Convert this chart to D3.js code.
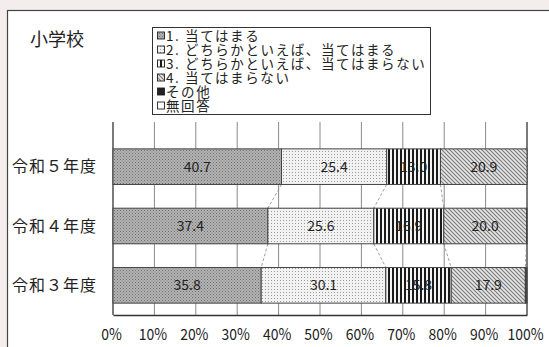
<!DOCTYPE html>
<html>
<head>
<meta charset="utf-8">
<script src="https://cdn.jsdelivr.net/npm/d3@7"></script>
<style>
  html, body { margin: 0; padding: 0; background: #f3eded; }
  svg { display: block; }
  text { font-family: "Noto Sans CJK JP", "Noto Sans", sans-serif; fill: #222; }
</style>
</head>
<body>
<svg id="chart" width="549" height="347"></svg>
<script>
// Survey answers by school year (percent of respondents)
const categories = ["令和５年度", "令和４年度", "令和３年度"];
const seriesNames = [
  "1. 当てはまる",
  "2. どちらかといえば、当てはまる",
  "3. どちらかといえば、当てはまらない",
  "4. 当てはまらない",
  "その他",
  "無回答"
];
const valuesR5 = [40.7, 25.4, 13.0, 20.9, 0.0, 0.0];
const valuesR4 = [37.4, 25.6, 16.9, 20.0, 0.1, 0.0];
const valuesR3 = [35.8, 30.1, 15.8, 17.9, 0.2, 0.2];
const tickValues = [0, 10, 20, 30, 40, 50, 60, 70, 80, 90, 100];
const tickLabels = ["0%", "10%", "20%", "30%", "40%", "50%", "60%", "70%", "80%", "90%", "100%"];
const chartTitle = "小学校";

const svg = d3.select("#chart");
const W = 549, H = 347;

// panel
svg.append("rect").attr("x", 7.5).attr("y", 10.5).attr("width", W).attr("height", H)
  .attr("fill", "#fff").attr("stroke", "#444").attr("stroke-width", 1.2);

// fill patterns
const defs = svg.append("defs");
function pat(id, size, draw) {
  const p = defs.append("pattern").attr("id", id).attr("patternUnits", "userSpaceOnUse")
    .attr("width", size).attr("height", size);
  draw(p);
  return `url(#${id})`;
}
const fills = [
  pat("p1", 3, p => {
    p.append("rect").attr("width", 3).attr("height", 3).attr("fill", "#b4b4b4");
    p.append("rect").attr("x", 0).attr("y", 0).attr("width", 1).attr("height", 1).attr("fill", "#6e6e6e");
    p.append("rect").attr("x", 1.5).attr("y", 1.5).attr("width", 1).attr("height", 1).attr("fill", "#7a7a7a");
  }),
  pat("p2", 3, p => {
    p.append("rect").attr("width", 3).attr("height", 3).attr("fill", "#f2f2f2");
    p.append("rect").attr("x", 1).attr("y", 1).attr("width", 1).attr("height", 1).attr("fill", "#9a9a9a");
  }),
  pat("p3", 4, p => {
    p.append("rect").attr("width", 4).attr("height", 4).attr("fill", "#f4f4f4");
    p.append("rect").attr("x", 0).attr("width", 2).attr("height", 4).attr("fill", "#1a1a1a");
  }),
  pat("p4", 4, p => {
    p.append("rect").attr("width", 4).attr("height", 4).attr("fill", "#e6e6e6");
    p.append("path").attr("d", "M-1,-1 L5,5 M-1,3 L1,5 M3,-1 L5,1")
      .attr("stroke", "#7a7a7a").attr("stroke-width", 1.1);
  }),
  "#222",
  "#fff"
];

// title
svg.append("text").attr("x", 30).attr("y", 46).attr("font-size", 18).text(chartTitle);

// legend
const lg = svg.append("g");
lg.append("rect").attr("x", 152.5).attr("y", 27.5).attr("width", 278).attr("height", 87)
  .attr("fill", "#fff").attr("stroke", "#333");
seriesNames.forEach((name, i) => {
  const yy = 36 + i * 14;
  lg.append("rect").attr("x", 157.5).attr("y", yy - 4).attr("width", 7).attr("height", 7)
    .attr("fill", fills[i]).attr("stroke", "#222").attr("stroke-width", 0.9);
  lg.append("text").attr("x", 166).attr("y", yy).attr("dy", "0.36em")
    .attr("font-size", 13.5).attr("letter-spacing", 1.6).text(name);
});

// scales
const x = d3.scaleLinear().domain([0, 100]).range([113, 527]);
const y = d3.scaleBand().domain(categories).range([137, 315]).paddingInner(0.4).paddingOuter(0.2);

// gridlines
const plot = svg.append("g");
plot.selectAll("line.grid").data(tickValues).join("line")
  .attr("x1", d => x(d)).attr("x2", d => x(d))
  .attr("y1", 122).attr("y2", 315)
  .attr("stroke", d => (d === 0 || d === 100) ? "#333" : "#8a8a8a")
  .attr("stroke-width", d => (d === 0 || d === 100) ? 1.3 : 1);

// bottom axis
const axis = svg.append("g").attr("transform", "translate(0,315)")
  .call(d3.axisBottom(x).tickValues(tickValues).tickSize(0).tickFormat((d, i) => tickLabels[i]));
axis.select(".domain").attr("stroke", "#333").attr("stroke-width", 1.3);
axis.selectAll("text").attr("font-size", 15.5).attr("dy", 0).attr("y", 0)
  .attr("transform", "translate(-2,25) scale(0.9,1)")
  .attr("font-family", "\"Noto Sans CJK JP\", sans-serif").attr("fill", "#222");

// stacked data
const rows = [valuesR5, valuesR4, valuesR3].map((vals, r) => {
  const o = { cat: categories[r] };
  seriesNames.forEach((s, i) => o[s] = vals[i]);
  return o;
});
const stacked = d3.stack().keys(seriesNames)(rows);

// series connector lines between adjacent bars
for (let k = 0; k < 4; k++) {
  for (let r = 0; r < rows.length - 1; r++) {
    const a = stacked[k][r], b = stacked[k][r + 1];
    svg.append("line")
      .attr("x1", x(a[1])).attr("y1", y(rows[r].cat) + y.bandwidth())
      .attr("x2", x(b[1])).attr("y2", y(rows[r + 1].cat))
      .attr("stroke", "#888").attr("stroke-width", 0.8).attr("stroke-dasharray", "3,2");
  }
}

// bars
const layers = svg.append("g").selectAll("g").data(stacked).join("g")
  .attr("fill", (d, i) => fills[i]);
layers.selectAll("rect").data(d => d).join("rect")
  .attr("x", d => x(d[0]))
  .attr("y", d => y(d.data.cat))
  .attr("width", d => x(d[1]) - x(d[0]))
  .attr("height", y.bandwidth())
  .attr("stroke", "#444").attr("stroke-width", 1);

// value labels
stacked.forEach((layer, i) => {
  layer.forEach(d => {
    const v = d[1] - d[0];
    if (v < 5) return;
    svg.append("text")
      .attr("x", (x(d[0]) + x(d[1])) / 2)
      .attr("y", y(d.data.cat) + y.bandwidth() / 2)
      .attr("dy", "0.36em").attr("text-anchor", "middle")
      .attr("font-size", 14).attr("fill", "#333")
      .text(v.toFixed(1));
  });
});

// category labels
categories.forEach(c => {
  svg.append("text").attr("x", 12).attr("y", y(c) + y.bandwidth() / 2)
    .attr("dy", "0.36em").attr("font-size", 16).attr("letter-spacing", 1).text(c);
});
</script>
</body>
</html>
